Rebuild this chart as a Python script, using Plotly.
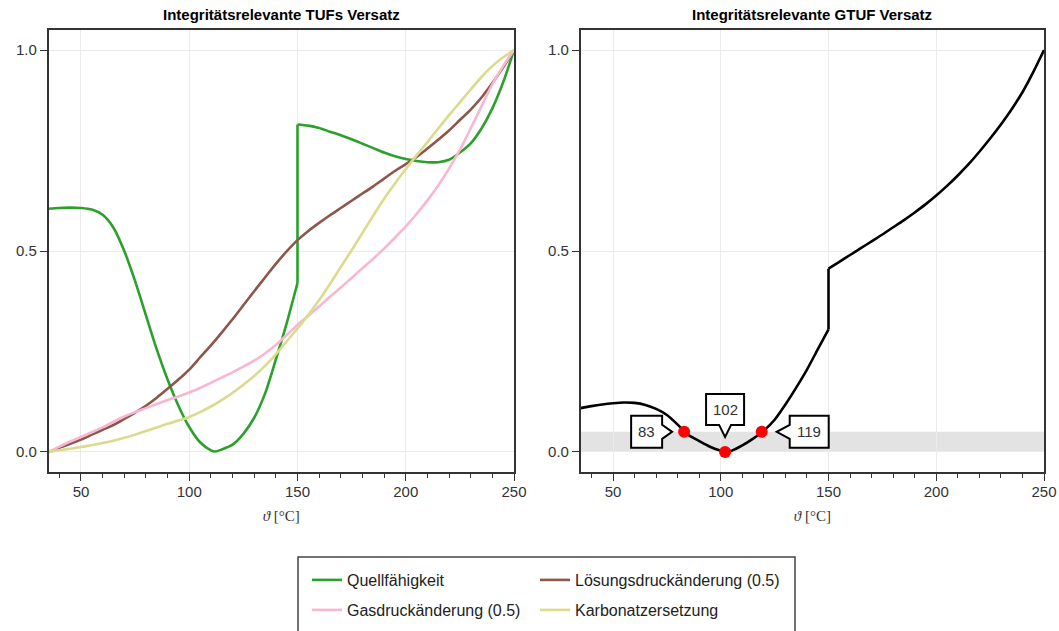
import plotly.graph_objects as go

# ---------------- data ----------------
theta_grid = [35, 40, 45, 50, 55, 60, 65, 70, 75, 80, 85, 90, 95, 100, 105, 110, 115, 120,
              125, 130, 135, 140, 145, 150, 155, 160, 165, 170, 175, 180, 185, 190, 195, 200,
              205, 210, 215, 220, 225, 230, 235, 240, 245, 250]

theta_quell = [35, 40, 45, 50, 55, 60, 65, 70, 75, 80, 85, 90, 95, 100, 105, 110, 112, 115, 120,
               125, 130, 135, 140, 145, 148, 150, 150, 155, 160, 165, 170, 175, 180, 185, 190,
               195, 200, 205, 210, 215, 220, 225, 230, 235, 240, 245, 250]
quell = [0.605, 0.607, 0.608, 0.607, 0.603, 0.590, 0.558, 0.500, 0.425, 0.340, 0.255, 0.180,
         0.115, 0.062, 0.024, 0.004, 0.001, 0.006, 0.018, 0.045, 0.085, 0.145, 0.230, 0.320,
         0.380, 0.420, 0.815, 0.812, 0.806, 0.797, 0.788, 0.778, 0.767, 0.756, 0.745, 0.736,
         0.729, 0.724, 0.721, 0.721, 0.727, 0.745, 0.768, 0.805, 0.855, 0.920, 1.0]

loesung = [0.0, 0.010, 0.020, 0.031, 0.043, 0.055, 0.067, 0.082, 0.098, 0.115,
           0.135, 0.157, 0.180, 0.205, 0.235, 0.265, 0.297, 0.330, 0.365, 0.400,
           0.434, 0.468, 0.499, 0.527, 0.550, 0.570, 0.589, 0.607, 0.625, 0.643,
           0.661, 0.680, 0.699, 0.716, 0.734, 0.755, 0.777, 0.800, 0.826, 0.852,
           0.882, 0.918, 0.957, 1.0]

gas = [0.0, 0.013, 0.026, 0.037, 0.049, 0.061, 0.075, 0.088, 0.099, 0.109,
       0.119, 0.129, 0.138, 0.148, 0.159, 0.172, 0.185, 0.198, 0.212, 0.227,
       0.245, 0.266, 0.291, 0.316, 0.339, 0.362, 0.386, 0.409, 0.433, 0.457,
       0.481, 0.506, 0.533, 0.561, 0.592, 0.626, 0.663, 0.705, 0.752, 0.805,
       0.860, 0.915, 0.960, 1.0]

karbonat = [0.0, 0.004, 0.008, 0.012, 0.017, 0.022, 0.028, 0.035, 0.043, 0.052,
            0.061, 0.070, 0.078, 0.087, 0.099, 0.113, 0.129, 0.147, 0.167, 0.189,
            0.214, 0.243, 0.275, 0.307, 0.341, 0.378, 0.418, 0.460, 0.502, 0.545,
            0.588, 0.630, 0.668, 0.704, 0.738, 0.771, 0.805, 0.838, 0.870, 0.902,
            0.933, 0.960, 0.982, 1.0]

theta_gtuf = [35, 40, 45, 50, 55, 60, 65, 70, 75, 80, 85, 90, 95, 100, 102, 105, 110, 115, 120,
              125, 130, 135, 140, 145, 150, 150, 155, 160, 165, 170, 175, 180, 185, 190, 195,
              200, 205, 210, 215, 220, 225, 230, 235, 240, 245, 250]
gtuf = [0.109, 0.114, 0.118, 0.121, 0.123, 0.122, 0.117, 0.107, 0.092, 0.068, 0.042, 0.027,
        0.013, 0.003, 0.0, 0.003, 0.016, 0.033, 0.053, 0.080, 0.118, 0.160, 0.205, 0.255,
        0.305, 0.456, 0.473, 0.490, 0.507, 0.524, 0.541, 0.559, 0.577, 0.596, 0.616, 0.638,
        0.662, 0.688, 0.716, 0.747, 0.780, 0.815, 0.853, 0.895, 0.945, 1.0]

marked_theta = [83, 102, 119]
marked_value = [0.05, 0.0, 0.05]
marked_labels = ["83", "102", "119"]
band_limits = [0.0, 0.05]

series_names = ["Quellfähigkeit", "Lösungsdruckänderung (0.5)",
                "Gasdruckänderung (0.5)", "Karbonatzersetzung"]
series_colors = ["#2ca02c", "#8c564b", "#f7b6d2", "#dbdb8d"]
titles = ["Integritätsrelevante TUFs Versatz", "Integritätsrelevante GTUF Versatz"]

W, H = 1059, 631
WE = 1046  # effective horizontal layout width observed in the renderer
FONT = "Liberation Sans, Arial, sans-serif"
TICKC = "#333333"


def split_at_jump(xs, ys):
    """Split a series where the same x appears twice (vertical step) so that
    each smooth piece can be drawn with a spline, joined by the vertical step."""
    for i in range(1, len(xs)):
        if xs[i] == xs[i - 1]:
            return [(xs[:i], ys[:i]), (xs[i - 1:i + 1], ys[i - 1:i + 1]), (xs[i:], ys[i:])]
    return [(xs, ys)]


fig = go.Figure()

left_series = [(theta_quell, quell), (theta_grid, loesung), (theta_grid, gas), (theta_grid, karbonat)]
legend_ids = ["legend", "legend", "legend2", "legend2"]
legend_widths = [183, 260, 183, 260]
for (xs, ys), name, col, lg, lw in zip(left_series, series_names, series_colors, legend_ids, legend_widths):
    pieces = split_at_jump(xs, ys)
    for k, (px, py) in enumerate(pieces):
        fig.add_trace(go.Scatter(x=px, y=py, mode="lines", name=name,
                                 line=dict(color=col, width=2.6, shape="spline", smoothing=0.8,
                                           simplify=False),
                                 xaxis="x", yaxis="y", legend=lg, legendgroup=name,
                                 legendwidth=lw, showlegend=(k == 0)))

for px, py in split_at_jump(theta_gtuf, gtuf):
    fig.add_trace(go.Scatter(x=px, y=py, mode="lines", showlegend=False,
                             line=dict(color="black", width=2.6, shape="spline", smoothing=0.8,
                                       simplify=False),
                             xaxis="x2", yaxis="y2"))
fig.add_trace(go.Scatter(x=marked_theta, y=marked_value, mode="markers", showlegend=False,
                         marker=dict(color="#ff0000", size=12), xaxis="x2", yaxis="y2"))

# grey tolerance band
fig.add_shape(type="rect", xref="x2 domain", yref="y2", x0=0, x1=1,
              y0=band_limits[0], y1=band_limits[1], fillcolor="#e3e3e3",
              line=dict(width=0), layer="below")

# callouts (pixel offsets relative to the marked point)
callout_paths = [
    "M-53,16 L-22,16 L-22,7 L-12,0 L-22,-7 L-22,-16 L-53,-16 Z",
    "M-19,58 L19,58 L19,27 L6,27 L0,15 L-6,27 L-19,27 Z",
    "M28,16 L67,16 L67,-16 L28,-16 L28,-7 L15,0 L28,7 Z",
]
label_shift = [(-37.5, 0), (0, 42.5), (47.5, 0)]
for xv, yv, lab, pth, (dx, dy) in zip(marked_theta, marked_value, marked_labels, callout_paths, label_shift):
    fig.add_shape(type="path", xref="x2", yref="y2", xsizemode="pixel", ysizemode="pixel",
                  xanchor=xv, yanchor=yv, path=pth, fillcolor="white",
                  line=dict(color="black", width=2), layer="above")
    fig.add_annotation(x=xv, y=yv, xref="x2", yref="y2", text=lab, showarrow=False,
                       xshift=dx, yshift=dy, font=dict(family=FONT, size=15, color=TICKC))

dom_x1 = [48.5 / WE, 514 / WE]
dom_x2 = [580.7 / WE, 1044 / WE]
dom_y = [1 - 472 / H, 1 - 30 / H]

xcommon = dict(range=[35, 250], tick0=0, dtick=50, ticks="outside", ticklen=7, tickwidth=1.3,
               tickcolor=TICKC, showline=True, mirror=True, linecolor="#333333", linewidth=1.5,
               showgrid=True, gridcolor="#ebebeb", gridwidth=1, zeroline=False,
               ticklabelstandoff=-2,
               tickfont=dict(family=FONT, size=15, color=TICKC),
               minor=dict(ticks="outside", ticklen=4, tickwidth=1.2, dtick=10, tick0=0,
                          tickcolor=TICKC, showgrid=False),
               title=dict(text="<i>ϑ</i> [°C]", standoff=12,
                          font=dict(family="Liberation Serif, DejaVu Serif, serif", size=15,
                                    color="#333333")))
ycommon = dict(range=[-0.05, 1.05], tick0=0, dtick=0.5, tickformat=".1f", ticks="outside",
               ticklen=7, tickwidth=1.3, tickcolor=TICKC, showline=True, mirror=True,
               linecolor="#333333", linewidth=1.5, showgrid=True, gridcolor="#ebebeb",
               gridwidth=1, zeroline=False, tickfont=dict(family=FONT, size=15, color=TICKC))

fig.update_layout(
    width=W, height=H, autosize=False,
    margin=dict(l=0, r=0, t=0, b=0),
    paper_bgcolor="white", plot_bgcolor="white",
    xaxis=dict(domain=dom_x1, anchor="y", **xcommon),
    yaxis=dict(domain=dom_y, anchor="x", **ycommon),
    xaxis2=dict(domain=dom_x2, anchor="y2", **xcommon),
    yaxis2=dict(domain=dom_y, anchor="x2", **ycommon),
    legend=dict(orientation="h", x=307 / WE, xanchor="left", y=1 - 580 / H, yanchor="middle",
                bgcolor="rgba(0,0,0,0)", font=dict(family=FONT, size=16, color="#222222")),
    legend2=dict(orientation="h", x=307 / WE, xanchor="left", y=1 - 610 / H, yanchor="middle",
                 bgcolor="rgba(0,0,0,0)", font=dict(family=FONT, size=16, color="#222222")),
)

# subplot titles
for dom, t in zip([dom_x1, dom_x2], titles):
    fig.add_annotation(x=(dom[0] + dom[1]) / 2, y=1 - 15 / H, xref="paper", yref="paper",
                       text="<b>" + t + "</b>", showarrow=False, xanchor="center", yanchor="middle",
                       font=dict(family=FONT, size=15, color="black"))

# legend frame
fig.add_shape(type="rect", xref="paper", yref="paper", x0=298 / WE, x1=795 / WE,
              y0=-0.05, y1=1 - 557 / H, line=dict(color="#444444", width=1.5),
              fillcolor="rgba(0,0,0,0)", layer="above")

fig.write_html("out.html",
               config={"displayModeBar": False, "responsive": False},
               post_script="document.body.style.margin='0';document.body.style.overflow='hidden';")
